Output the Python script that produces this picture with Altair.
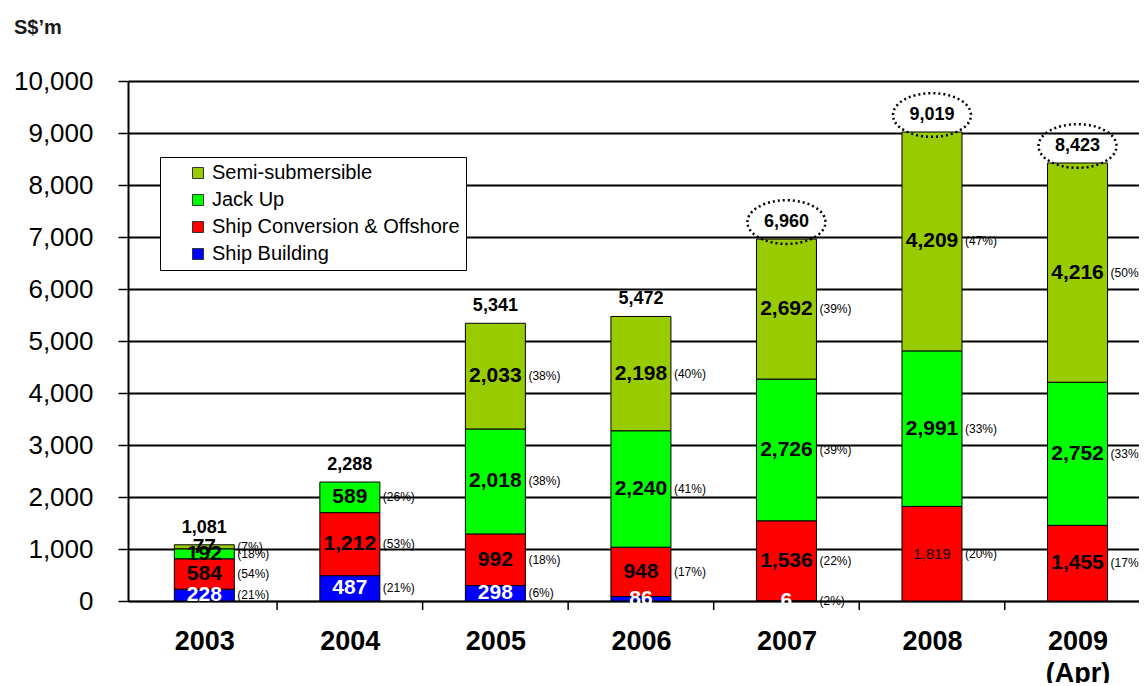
import altair as alt
import pandas as pd

# ---------------- data ----------------
years = ["2003", "2004", "2005", "2006", "2007", "2008", "2009"]
year_labels = ["2003", "2004", "2005", "2006", "2007", "2008", ["2009", "(Apr)"]]
series = ["Semi-submersible", "Jack Up", "Ship Conversion & Offshore", "Ship Building"]
colors = ["#99CC00", "#00FF00", "#FF0000", "#0000FF"]

ship_building = [228, 487, 298, 86, 6, 0, 0]
ship_conversion = [584, 1212, 992, 948, 1536, 1819, 1455]
jack_up = [192, 589, 2018, 2240, 2726, 2991, 2752]
semi_sub = [77, 0, 2033, 2198, 2692, 4209, 4216]
totals = [1081, 2288, 5341, 5472, 6960, 9019, 8423]

pct_sb = ["(21%)", "(21%)", "(6%)", "", "(2%)", "", ""]
pct_sc = ["(54%)", "(53%)", "(18%)", "(17%)", "(22%)", "(20%)", "(17%)"]
pct_ju = ["(18%)", "(26%)", "(38%)", "(41%)", "(39%)", "(33%)", "(33%)"]
pct_ss = ["(7%)", "", "(38%)", "(40%)", "(39%)", "(47%)", "(50%)"]

circled_years = ["2007", "2008", "2009"]
y_ticks = list(range(0, 10001, 1000))

# ---------------- tables ----------------
rows = []
stack_order = [
    ("Ship Building", ship_building, pct_sb),
    ("Ship Conversion & Offshore", ship_conversion, pct_sc),
    ("Jack Up", jack_up, pct_ju),
    ("Semi-submersible", semi_sub, pct_ss),
]
for order, (name, vals, pcts) in enumerate(stack_order):
    for i, y in enumerate(years):
        rows.append({"idx": i, "year": y, "series": name, "order": order,
                     "value": vals[i], "pct": pcts[i]})
df = pd.DataFrame(rows)
tot_df = pd.DataFrame({"idx": list(range(len(years))), "year": years, "total": totals})

FONT = "Liberation Sans"
xs = alt.Scale(domain=[-0.49, 6.388], nice=False, zero=False)
ys = alt.Scale(domain=[0, 10000], nice=False)

label_expr = str(year_labels).replace('"', "'") + "[datum.value]"

x_axis = alt.Axis(
    values=list(range(len(years))),
    labelExpr=label_expr,
    title=None, grid=False, ticks=False,
    labelFont=FONT, labelFontSize=27, labelFontWeight="bold", labelColor="black",
    labelLineHeight=32, labelBaseline="top", labelPadding=27, labelOverlap=False,
    labelFlush=False, labelBound=False,
    domainColor="black", domainWidth=1.5,
)
y_axis = alt.Axis(
    values=y_ticks, format=",d", title=None,
    labelFont=FONT, labelFontSize=26, labelColor="black", labelPadding=25,
    tickSize=10, tickColor="black", tickWidth=1.5,
    grid=True, gridColor="black", gridWidth=1.8,
    domainColor="black", domainWidth=2,
)


def X(field):
    return alt.X(field, type="quantitative", scale=xs, axis=x_axis)


def Y(field):
    return alt.Y(field, type="quantitative", scale=ys, axis=y_axis)


base = alt.Chart(df).transform_filter("datum.value > 0").transform_stack(
    stack="value", groupby=["idx"], sort=[alt.SortField("order", "ascending")], as_=["y0", "y1"]
).transform_calculate(mid="(datum.y0 + datum.y1) / 2")

bars = base.mark_bar(size=60, stroke="black", strokeWidth=1).encode(
    x=X("idx"),
    y=Y("y0"),
    y2="y1:Q",
    color=alt.Color(
        "series:N",
        scale=alt.Scale(domain=series, range=colors),
        legend=alt.Legend(
            title=None, orient="none", legendX=32, legendY=76,
            fillColor="white", strokeColor="black",
            padding=6, symbolOffset=22,
            symbolType="square", symbolSize=121, symbolStrokeWidth=1,
            symbolStrokeColor="#333333",
            labelFont=FONT, labelFontSize=20, labelColor="black", labelOffset=4,
            rowPadding=7, labelLimit=400,
        ),
    ),
)

# category boundary tick marks below the x axis
bound_ticks = alt.Chart(tot_df).transform_filter("datum.idx < 6").transform_calculate(
    edge="datum.idx + 0.5"
).mark_rule(color="black", strokeWidth=1.5).encode(
    x=X("edge"),
    y=alt.value(520), y2=alt.value(529),
)

is_plain = "datum.year == '2008' && datum.series == 'Ship Conversion & Offshore'"

value_text = base.transform_filter("!(" + is_plain + ")").mark_text(
    font=FONT, fontWeight="bold", fontSize=21, baseline="middle"
).encode(
    x=X("idx"),
    y=Y("mid"),
    text=alt.Text("value:Q", format=","),
    color=alt.condition("datum.series == 'Ship Building'", alt.value("white"), alt.value("black")),
)

plain_text = base.transform_filter(is_plain).mark_text(
    font=FONT, fontSize=15, baseline="middle", color="black"
).encode(
    x=X("idx"),
    y=Y("mid"),
    text=alt.Text("value:Q", format=","),
)

pct_text = base.transform_filter("datum.pct != ''").mark_text(
    font=FONT, fontSize=12, align="left", baseline="middle", dx=33, color="black"
).encode(
    x=X("idx"),
    y=Y("mid"),
    text="pct:N",
)

tot_text = alt.Chart(tot_df).mark_text(
    font=FONT, fontWeight="bold", fontSize=18, baseline="middle", dy=-17, color="black"
).encode(
    x=X("idx"),
    y=Y("total"),
    text=alt.Text("total:Q", format=","),
)

ELLIPSE = "M -1 -0.436 A 1 0.56 0 1 1 1 -0.436 A 1 0.56 0 1 1 -1 -0.436 Z"
ellipses = alt.Chart(tot_df).transform_filter(
    alt.FieldOneOfPredicate(field="year", oneOf=circled_years)
).mark_point(
    shape=ELLIPSE, size=6084, filled=False, color="black", stroke="black",
    strokeWidth=2.5, strokeDash=[2, 3], opacity=1
).encode(
    x=X("idx"),
    y=Y("total"),
)

chart = alt.layer(bars, bound_ticks, value_text, plain_text, pct_text, tot_text, ellipses).properties(
    width=1011, height=520,
    autosize=alt.AutoSizeParams(type="none"),
    padding={"left": 120, "top": 73, "right": 0, "bottom": 82},
    title=alt.TitleParams(
        "S$\u2019m", anchor="start", frame="group", dx=-114, offset=30,
        font=FONT, fontSize=20, fontWeight="bold", color="#1a1a1a",
    ),
    background="white",
).configure_view(stroke=None)

chart.save("out.html", embed_options={"renderer": "svg", "actions": False})
